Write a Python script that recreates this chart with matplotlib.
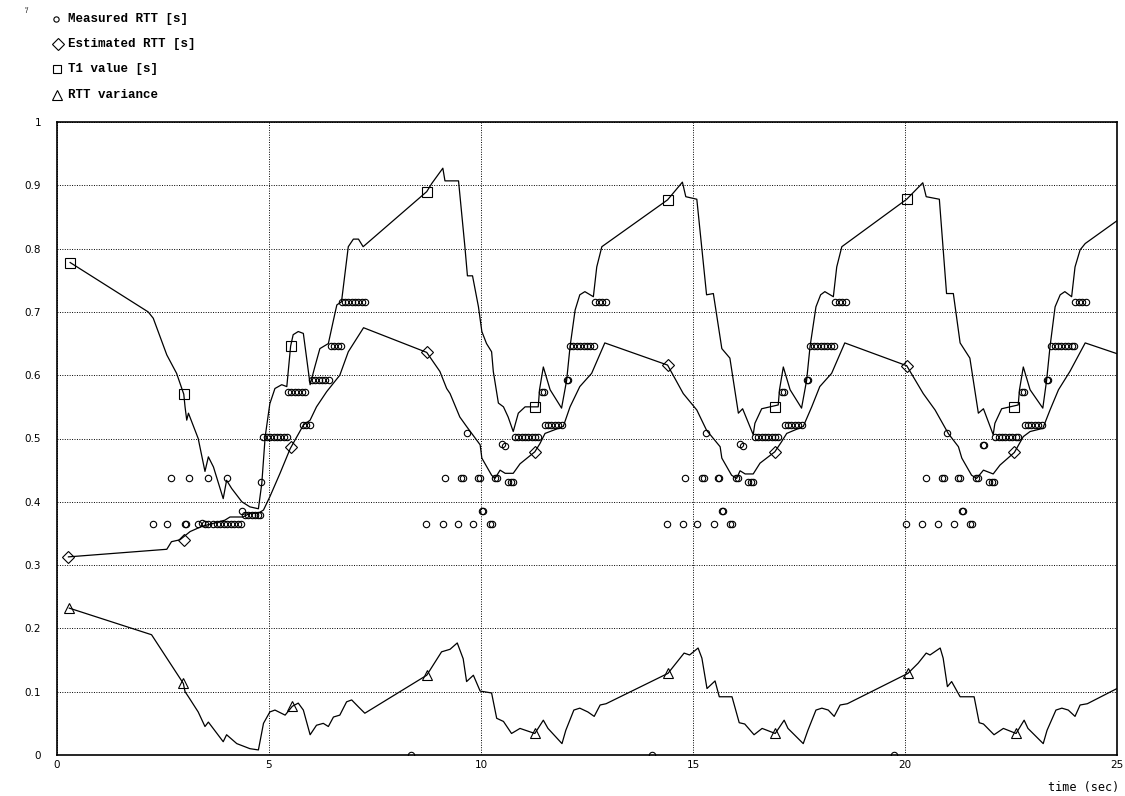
import matplotlib
matplotlib.use("Agg")
import matplotlib.pyplot as plt
from matplotlib.lines import Line2D

# ---------------- data ----------------
x_ticks = [0, 5, 10, 15, 20, 25]
y_ticks = [0, 0.1, 0.2, 0.3, 0.4, 0.5, 0.6, 0.7, 0.8, 0.9, 1]
y_tick_labels = ["0", "0.1", "0.2", "0.3", "0.4", "0.5", "0.6", "0.7", "0.8", "0.9", "1"]

legend_labels = ["Measured RTT [s]", "Estimated RTT [s]", "T1 value [s]", "RTT variance"]

# Measured RTT samples (points only)
meas_t = [2.26, 2.60, 2.70, 3.02, 3.05, 3.12, 3.33, 3.41, 3.49, 3.57, 3.57, 3.69, 3.77, 3.85, 3.93,
          4.00, 4.02, 4.10, 4.18, 4.26, 4.34, 4.36, 4.43, 4.51, 4.59, 4.67, 4.75, 4.79, 4.81,
          4.87, 4.95, 5.03, 5.11, 5.19, 5.27, 5.35, 5.42, 5.45, 5.53, 5.61, 5.69, 5.77, 5.85,
          5.80, 5.88, 5.96, 6.01, 6.09, 6.17, 6.25, 6.33, 6.41, 6.46, 6.54, 6.62, 6.70,
          6.71, 6.79, 6.87, 6.95, 7.03, 7.11, 7.19, 7.27,
          8.35, 8.70, 9.10, 9.15, 9.46, 9.54, 9.58, 9.66, 9.82, 9.93, 9.97, 10.02, 10.05, 10.21, 10.25,
          10.33, 10.37, 10.49, 10.57, 10.64, 10.70, 10.76,
          10.80, 10.88, 10.96, 11.04, 11.12, 11.20, 11.28, 11.35, 11.45, 11.48,
          11.50, 11.58, 11.66, 11.74, 11.82, 11.90, 12.02, 12.05,
          12.10, 12.18, 12.26, 12.34, 12.42, 12.50, 12.58, 12.66, 12.70, 12.78, 12.86, 12.95,
          14.03, 14.38, 14.76, 14.81, 15.10, 15.22, 15.26, 15.31, 15.50, 15.58, 15.62, 15.68, 15.71,
          15.87, 15.91, 16.01, 16.05, 16.10, 16.18, 16.30, 16.36, 16.42,
          16.46, 16.54, 16.62, 16.70, 16.78, 16.86, 16.94, 17.01, 17.11, 17.14,
          17.16, 17.24, 17.32, 17.40, 17.48, 17.56, 17.68, 17.71,
          17.77, 17.85, 17.93, 18.01, 18.09, 18.17, 18.25, 18.33, 18.36, 18.44, 18.52, 18.61,
          19.74, 20.02, 20.39, 20.50, 20.79, 20.88, 20.92, 21.00, 21.15, 21.26, 21.30, 21.34, 21.37,
          21.53, 21.57, 21.67, 21.71, 21.83, 21.86, 21.99, 22.05, 22.10,
          22.13, 22.21, 22.29, 22.37, 22.45, 22.53, 22.61, 22.67, 22.77, 22.80,
          22.82, 22.90, 22.98, 23.06, 23.14, 23.22, 23.34, 23.37,
          23.45, 23.53, 23.61, 23.69, 23.77, 23.85, 23.93, 23.99, 24.02, 24.10, 24.18, 24.27]
meas_v = [0.365, 0.365, 0.437, 0.365, 0.365, 0.437, 0.365, 0.367, 0.365, 0.437, 0.365, 0.365, 0.365, 0.365, 0.365,
          0.437, 0.365, 0.365, 0.365, 0.365, 0.365, 0.386, 0.379, 0.379, 0.379, 0.379, 0.379, 0.379, 0.431,
          0.502, 0.502, 0.502, 0.502, 0.502, 0.502, 0.502, 0.502, 0.574, 0.574, 0.574, 0.574, 0.574, 0.574,
          0.521, 0.521, 0.521, 0.592, 0.592, 0.592, 0.592, 0.592, 0.592, 0.646, 0.646, 0.646, 0.646,
          0.716, 0.716, 0.716, 0.716, 0.716, 0.716, 0.716, 0.716,
          0.0, 0.365, 0.365, 0.437, 0.365, 0.437, 0.437, 0.509, 0.365, 0.437, 0.437, 0.385, 0.385, 0.365, 0.365,
          0.437, 0.437, 0.491, 0.488, 0.431, 0.431, 0.431,
          0.503, 0.503, 0.503, 0.503, 0.503, 0.503, 0.503, 0.503, 0.574, 0.574,
          0.522, 0.522, 0.522, 0.522, 0.522, 0.522, 0.592, 0.592,
          0.646, 0.646, 0.646, 0.646, 0.646, 0.646, 0.646, 0.646, 0.716, 0.716, 0.716, 0.716,
          0.0, 0.365, 0.365, 0.437, 0.365, 0.437, 0.437, 0.509, 0.365, 0.437, 0.437, 0.385, 0.385,
          0.365, 0.365, 0.437, 0.437, 0.491, 0.488, 0.431, 0.431, 0.431,
          0.503, 0.503, 0.503, 0.503, 0.503, 0.503, 0.503, 0.503, 0.574, 0.574,
          0.522, 0.522, 0.522, 0.522, 0.522, 0.522, 0.592, 0.592,
          0.646, 0.646, 0.646, 0.646, 0.646, 0.646, 0.646, 0.646, 0.716, 0.716, 0.716, 0.716,
          0.0, 0.365, 0.365, 0.437, 0.365, 0.437, 0.437, 0.508, 0.365, 0.437, 0.437, 0.385, 0.385,
          0.365, 0.365, 0.437, 0.437, 0.490, 0.490, 0.431, 0.431, 0.431,
          0.503, 0.503, 0.503, 0.503, 0.503, 0.503, 0.503, 0.503, 0.574, 0.574,
          0.522, 0.522, 0.522, 0.522, 0.522, 0.522, 0.592, 0.592,
          0.646, 0.646, 0.646, 0.646, 0.646, 0.646, 0.646, 0.646, 0.716, 0.716, 0.716, 0.716]

# Estimated RTT line
est_t = [0.27, 2.59, 2.70, 2.90, 3.14, 3.41, 3.96, 4.08, 4.39, 4.55, 4.75, 4.87, 5.02, 5.26, 5.50,
         5.81, 5.97, 6.12, 6.36, 6.67, 6.87, 7.23, 8.72, 9.03, 9.19, 9.27, 9.50, 9.66, 9.98, 10.02,
         10.25, 10.33, 10.45, 10.57, 10.76, 10.92, 11.27, 11.39, 11.51, 11.94, 12.10, 12.33, 12.61,
         12.92, 14.40, 14.77, 15.09, 15.32, 15.64, 15.68, 15.91, 16.03, 16.11, 16.23, 16.42, 16.58,
         16.93, 17.09, 17.21, 17.60, 17.80, 17.99, 18.27, 18.58, 20.04, 20.43, 20.71, 21.02, 21.26,
         21.34, 21.57, 21.69, 21.85, 22.08, 22.24, 22.58, 22.79, 22.95, 23.25, 23.42, 23.62, 23.89,
         24.25, 25.0]
est_v = [0.313, 0.325, 0.337, 0.340, 0.353, 0.361, 0.371, 0.376, 0.376, 0.382, 0.382, 0.387, 0.408,
         0.445, 0.484, 0.521, 0.529, 0.550, 0.574, 0.600, 0.637, 0.675, 0.636, 0.606, 0.579, 0.571,
         0.534, 0.519, 0.490, 0.469, 0.442, 0.437, 0.450, 0.445, 0.445, 0.460, 0.479, 0.492, 0.508,
         0.519, 0.550, 0.582, 0.603, 0.651, 0.616, 0.571, 0.545, 0.513, 0.487, 0.469, 0.442, 0.437,
         0.449, 0.444, 0.444, 0.461, 0.479, 0.495, 0.508, 0.519, 0.550, 0.582, 0.603, 0.651, 0.615,
         0.571, 0.545, 0.508, 0.487, 0.469, 0.442, 0.437, 0.450, 0.444, 0.458, 0.478, 0.503, 0.511,
         0.516, 0.545, 0.577, 0.606, 0.651, 0.634]
est_mark_t = [0.27, 3.00, 5.53, 8.72, 11.27, 14.40, 16.93, 20.04, 22.58]
est_mark_v = [0.313, 0.340, 0.486, 0.636, 0.479, 0.616, 0.479, 0.615, 0.478]

# T1 value line
t1_t = [0.31, 2.15, 2.27, 2.59, 2.82, 2.99, 3.02, 3.06, 3.10, 3.33, 3.49, 3.57, 3.69, 3.92, 4.00,
        4.12, 4.36, 4.55, 4.75, 4.83, 4.91, 5.02, 5.14, 5.30, 5.42, 5.51, 5.57, 5.69, 5.81, 5.97,
        6.08, 6.20, 6.40, 6.52, 6.60, 6.71, 6.87, 6.99, 7.11, 7.22, 8.72, 8.84, 9.10, 9.15, 9.47,
        9.62, 9.68, 9.80, 9.94, 10.02, 10.13, 10.25, 10.29, 10.41, 10.53, 10.64, 10.76, 10.88,
        11.04, 11.35, 11.38, 11.47, 11.63, 11.90, 12.02, 12.10, 12.22, 12.33, 12.45, 12.65, 12.73,
        12.85, 14.40, 14.75, 14.83, 15.09, 15.32, 15.48, 15.68, 15.87, 16.07, 16.17, 16.42, 16.46,
        16.62, 17.01, 17.04, 17.13, 17.29, 17.56, 17.68, 17.76, 17.90, 18.01, 18.11, 18.31, 18.39,
        18.51, 20.04, 20.42, 20.50, 20.81, 20.98, 21.14, 21.30, 21.53, 21.73, 21.85, 22.08, 22.12,
        22.28, 22.67, 22.70, 22.79, 22.95, 23.25, 23.34, 23.42, 23.54, 23.66, 23.77, 23.93, 24.01,
        24.13, 24.25, 25.0]
t1_v = [0.778, 0.700, 0.690, 0.632, 0.603, 0.570, 0.550, 0.529, 0.540, 0.500, 0.448, 0.471, 0.455,
        0.405, 0.434, 0.421, 0.400, 0.392, 0.389, 0.429, 0.503, 0.555, 0.579, 0.585, 0.582, 0.646,
        0.664, 0.669, 0.666, 0.585, 0.613, 0.642, 0.650, 0.687, 0.711, 0.716, 0.803, 0.815, 0.815,
        0.803, 0.890, 0.903, 0.927, 0.907, 0.907, 0.803, 0.757, 0.757, 0.708, 0.669, 0.650, 0.637,
        0.606, 0.556, 0.550, 0.534, 0.511, 0.540, 0.550, 0.550, 0.577, 0.613, 0.577, 0.548, 0.592,
        0.645, 0.703, 0.727, 0.732, 0.724, 0.771, 0.803, 0.877, 0.905, 0.882, 0.878, 0.727, 0.729,
        0.642, 0.627, 0.540, 0.547, 0.506, 0.524, 0.547, 0.553, 0.577, 0.613, 0.577, 0.548, 0.592,
        0.645, 0.708, 0.727, 0.732, 0.724, 0.771, 0.803, 0.878, 0.904, 0.882, 0.878, 0.729, 0.729,
        0.651, 0.627, 0.540, 0.547, 0.506, 0.524, 0.547, 0.553, 0.577, 0.613, 0.577, 0.548, 0.592,
        0.645, 0.708, 0.727, 0.732, 0.724, 0.771, 0.798, 0.808, 0.844]
t1_mark_t = [0.31, 2.99, 5.51, 8.72, 11.27, 14.40, 16.93, 20.04, 22.58]
t1_mark_v = [0.778, 0.570, 0.646, 0.890, 0.549, 0.877, 0.549, 0.878, 0.549]

# RTT variance line
var_t = [0.29, 2.23, 2.98, 3.02, 3.10, 3.33, 3.49, 3.57, 3.92, 4.00, 4.24, 4.55, 4.75, 4.87, 5.02,
         5.14, 5.38, 5.55, 5.69, 5.81, 5.97, 6.12, 6.28, 6.40, 6.52, 6.67, 6.83, 6.95, 7.11, 7.26,
         8.72, 9.07, 9.27, 9.44, 9.58, 9.66, 9.82, 9.98, 10.25, 10.37, 10.53, 10.72, 10.92, 11.27,
         11.47, 11.58, 11.91, 12.00, 12.19, 12.33, 12.52, 12.67, 12.81, 12.95, 14.41, 14.60, 14.79,
         14.92, 15.12, 15.21, 15.33, 15.52, 15.62, 15.92, 16.09, 16.22, 16.44, 16.63, 16.94, 17.15,
         17.24, 17.60, 17.71, 17.90, 18.04, 18.19, 18.33, 18.47, 18.64, 20.07, 20.31, 20.50, 20.59,
         20.83, 20.90, 21.00, 21.10, 21.30, 21.63, 21.75, 21.85, 22.10, 22.32, 22.62, 22.81, 22.90,
         23.26, 23.35, 23.56, 23.70, 23.85, 24.01, 24.13, 24.30, 25.0]
var_v = [0.232, 0.190, 0.113, 0.100, 0.092, 0.068, 0.045, 0.052, 0.021, 0.032, 0.018, 0.010, 0.008,
         0.050, 0.068, 0.071, 0.063, 0.077, 0.082, 0.071, 0.032, 0.047, 0.050, 0.045, 0.060, 0.063,
         0.084, 0.087, 0.076, 0.066, 0.126, 0.163, 0.167, 0.177, 0.152, 0.116, 0.126, 0.101, 0.098,
         0.058, 0.053, 0.034, 0.042, 0.034, 0.055, 0.042, 0.018, 0.039, 0.071, 0.074, 0.068, 0.061,
         0.079, 0.081, 0.129, 0.145, 0.161, 0.158, 0.169, 0.153, 0.105, 0.117, 0.092, 0.092, 0.051,
         0.049, 0.032, 0.042, 0.034, 0.055, 0.042, 0.018, 0.039, 0.071, 0.074, 0.071, 0.061, 0.079,
         0.081, 0.129, 0.145, 0.161, 0.158, 0.169, 0.153, 0.108, 0.116, 0.092, 0.092, 0.051, 0.049,
         0.032, 0.042, 0.034, 0.055, 0.042, 0.018, 0.039, 0.071, 0.074, 0.071, 0.061, 0.079, 0.081,
         0.105]
var_mark_t = [0.29, 2.98, 5.55, 8.72, 11.27, 14.41, 16.94, 20.07, 22.62]
var_mark_v = [0.232, 0.113, 0.077, 0.126, 0.034, 0.129, 0.034, 0.129, 0.034]

# ---------------- plot ----------------
W, H = 1125, 796
fig = plt.figure(figsize=(W / 100, H / 100), dpi=100)
ax = fig.add_axes([57 / W, (H - 755) / H, (1117 - 57) / W, (755 - 122) / H])

lw = 0.9
mk = dict(markerfacecolor="none", markeredgecolor="black", markeredgewidth=0.8, linestyle="none")

ax.plot(est_t, est_v, color="black", lw=lw)
ax.plot(t1_t, t1_v, color="black", lw=lw)
ax.plot(var_t, var_v, color="black", lw=lw)
ax.plot(meas_t, meas_v, marker="o", markersize=4.6, **mk)
ax.plot(est_mark_t, est_mark_v, marker="D", markersize=6.0, **mk)
ax.plot(t1_mark_t, t1_mark_v, marker="s", markersize=6.5, **mk)
ax.plot(var_mark_t, var_mark_v, marker="^", markersize=7.5, **mk)

ax.set_xlim(0, 25)
ax.set_ylim(0, 1)
ax.set_xticks(x_ticks)
ax.set_yticks(y_ticks)
ax.set_yticklabels(y_tick_labels)
ax.grid(True, color="black", linestyle=(0, (1, 1.5)), linewidth=0.7)
ax.tick_params(length=0, labelsize=7.5)
ax.tick_params(axis="x", pad=3.5)
ax.tick_params(axis="y", pad=11.5)
for lab in ax.get_xticklabels() + ax.get_yticklabels():
    lab.set_family("DejaVu Sans")
for s in ax.spines.values():
    s.set_linewidth(1.2)

fig.text(1119 / W, 1 - 788 / H, "time (sec)", ha="right", va="center",
         fontsize=8.5, family="DejaVu Sans Mono")

# legend drawn manually at top-left
leg_markers = ["o", "D", "s", "^"]
leg_sizes = [3.8, 6.5, 6.0, 7.0]
leg_x = [56, 58, 57, 57]
leg_y = [19, 44, 69, 95]
for lab, m, ms, xx, yy in zip(legend_labels, leg_markers, leg_sizes, leg_x, leg_y):
    fig.add_artist(Line2D([xx / W], [1 - yy / H], marker=m, markersize=ms,
                          markerfacecolor="none", markeredgecolor="black",
                          markeredgewidth=0.8, linestyle="none"))
    fig.text(68 / W, 1 - yy / H, lab, ha="left", va="center", fontsize=9,
             family="Liberation Mono", fontweight="bold")

fig.text(24 / W, 1 - 10 / H, "'/", fontsize=5, ha="left", va="center")

fig.savefig("out.png", dpi=100)
